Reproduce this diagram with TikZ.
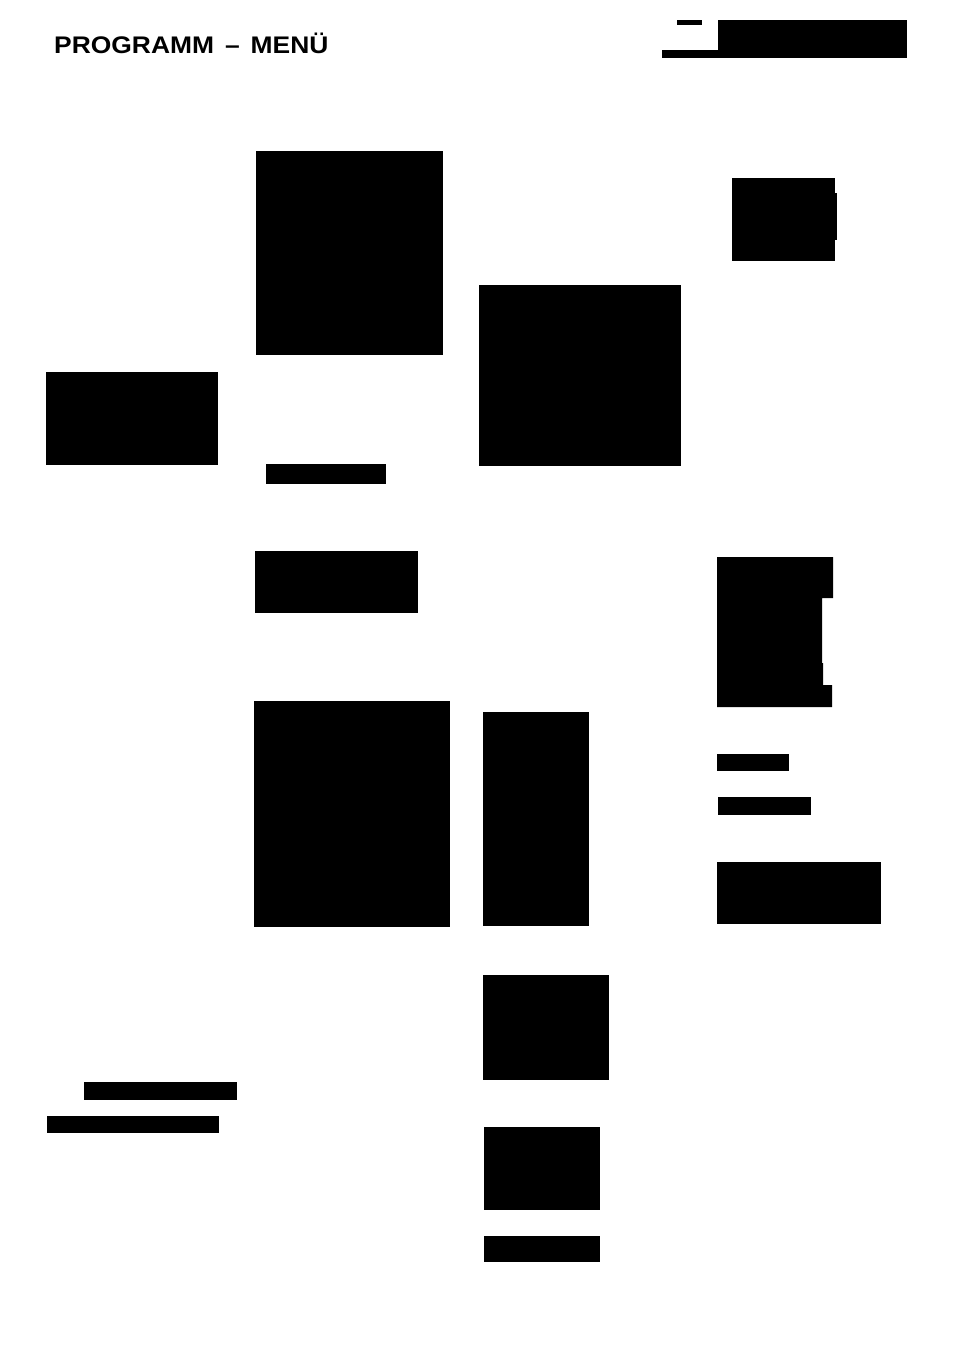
\documentclass[tikz,border=0pt]{standalone}
\usepackage{graphicx}
\usepackage{fontspec}
\setmainfont{Liberation Sans}
\begin{document}
\begin{tikzpicture}[x=1pt, y=-1pt, block/.style={fill=black}]
            \useasboundingbox (0,0) rectangle (954,1351);
            % title
            \node[anchor=base west, inner sep=0, font=\fontsize{24}{28}\selectfont\bfseries] (title) at (54,54)
                {\scalebox{1.1}[1]{PROGRAMM\hspace{10pt}–\hspace{10pt}MENÜ}};
            % top right
            \fill[block] (662,50) rectangle (907,58);
            \fill[block] (718,20) rectangle (907,50);
            \fill[block] (677,20) rectangle (702,25);
            % column 1
            \foreach \xa/\ya/\xb/\yb in {46/372/218/465, 84/1082/237/1100, 47/1116/219/1133}{
                \fill[block] (\xa,\ya) rectangle (\xb,\yb);
            }
            % column 2
            \foreach \xa/\ya/\xb/\yb in {256/151/443/355, 266/464/386/484, 255/551/418/613, 254/701/450/927}{
                \fill[block] (\xa,\ya) rectangle (\xb,\yb);
            }
            % column 3
            \foreach \xa/\ya/\xb/\yb in {479/285/681/466, 483/712/589/926, 483/975/609/1080, 484/1127/600/1210, 484/1236/600/1262}{
                \fill[block] (\xa,\ya) rectangle (\xb,\yb);
            }
            % column 4
            \fill[block] (732,178) rectangle (835,261);
            \fill[block] (835,193) rectangle (837,240);
            \fill[block] (717,557) -- (833,557) -- (833,598) -- (822,598) -- (822,663) -- (823,663)
                -- (823,685) -- (832,685) -- (832,707) -- (717,707) -- cycle;
            \foreach \xa/\ya/\xb/\yb in {717/754/789/771, 718/797/811/815, 717/862/881/924}{
                \fill[block] (\xa,\ya) rectangle (\xb,\yb);
            }
        \end{tikzpicture}
\end{document}
